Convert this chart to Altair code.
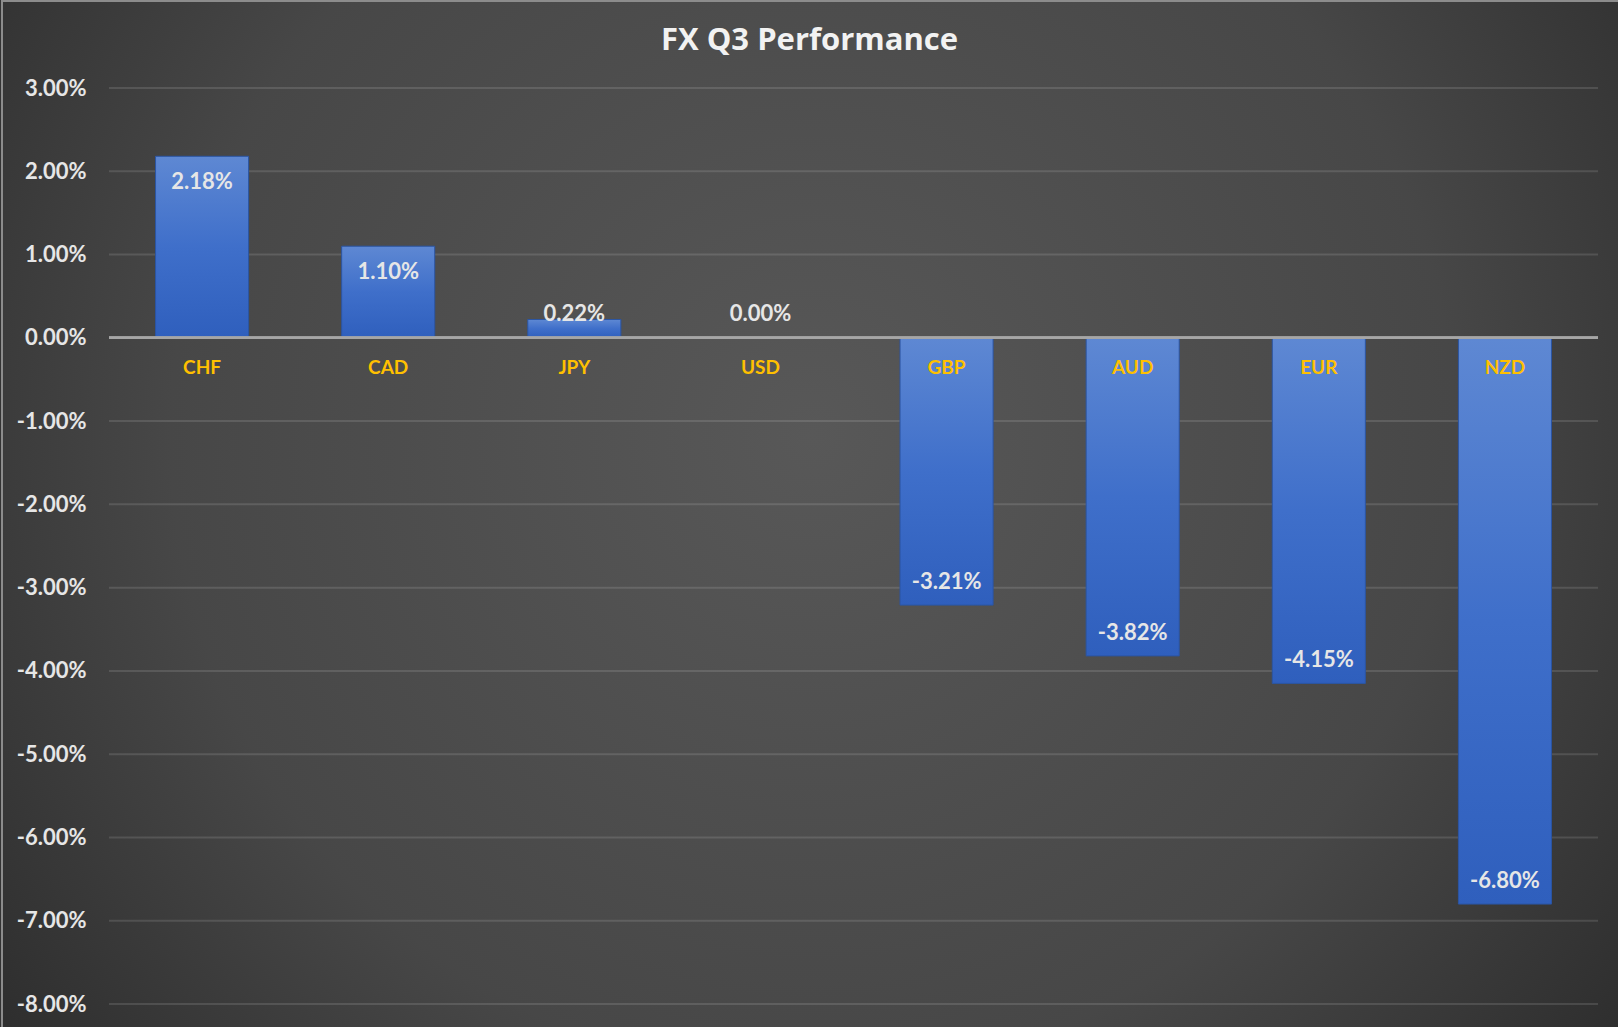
import altair as alt
import pandas as pd

currencies = ["CHF", "CAD", "JPY", "USD", "GBP", "AUD", "EUR", "NZD"]
performance = [0.0218, 0.0110, 0.0022, 0.0000, -0.0321, -0.0382, -0.0415, -0.0680]
y_ticks = [0.03, 0.02, 0.01, 0.0, -0.01, -0.02, -0.03, -0.04, -0.05, -0.06, -0.07, -0.08]
title_text = "FX Q3 Performance"

df = pd.DataFrame({"cur": currencies, "v": performance})
grid_df = pd.DataFrame({"t": y_ticks})

W, H = 1489, 916
PAD = {"left": 109, "top": 88, "right": 20, "bottom": 23}
FONT = "Lato"
FMT = "replace(format({}, '.2%'), '\u2212', '-')"

xenc = alt.X("cur:N", sort=currencies, axis=None,
             scale=alt.Scale(paddingInner=0.5, paddingOuter=0.25))
yscale = alt.Scale(domain=[-0.08, 0.03], nice=False, zero=False)

bg_grad = alt.RadialGradient(
    gradient="radial", x1=0.5, y1=0.45, r1=0, x2=0.5, y2=0.45, r2=0.72,
    stops=[alt.GradientStop(offset=0, color="#585858"),
           alt.GradientStop(offset=0.55, color="#474747"),
           alt.GradientStop(offset=1, color="#232323")])

bg = alt.Chart(alt.Data(values=[{"a": 1}])).mark_rect(
    color=bg_grad, stroke="#8c8c8c", strokeWidth=2).encode(
    x=alt.value(-PAD["left"] + 2), x2=alt.value(W + PAD["right"] + 4),
    y=alt.value(-PAD["top"] + 1), y2=alt.value(H + PAD["bottom"] + 4))

title = alt.Chart(alt.Data(values=[{"t": title_text}])).mark_text(
    font="Open Sans", fontSize=31, fontWeight="bold", color="#f2f2f2",
    baseline="middle", align="center").encode(
    x=alt.value(W / 2 - 44), y=alt.value(-PAD["top"] + 41), text="t:N")

grid = alt.Chart(grid_df).mark_rule(color="#ffffff", opacity=0.12, strokeWidth=2).encode(
    y=alt.Y("t:Q", scale=yscale))

bar_grad = alt.LinearGradient(
    gradient="linear", x1=0, y1=0, x2=0, y2=1,
    stops=[alt.GradientStop(offset=0, color="#5e88d3"),
           alt.GradientStop(offset=0.5, color="#3f6fca"),
           alt.GradientStop(offset=1, color="#2f5fbd")])

base = alt.Chart(df)

bars = base.mark_bar(color=bar_grad, stroke="#2b55a3", strokeWidth=1).encode(
    x=xenc,
    y=alt.Y("v:Q", scale=yscale,
            axis=alt.Axis(values=y_ticks, labelExpr=FMT.format("datum.value"),
                          title=None, domain=False, ticks=False, grid=False,
                          labelFont=FONT, labelFontSize=22, labelFontWeight="bold",
                          labelColor="#e6e6e6", labelPadding=23, zindex=1)),
    y2=alt.datum(0))

zero_line = base.mark_rule(color="#a6a6a6", strokeWidth=2).encode(y=alt.datum(0))

cat_labels = base.mark_text(dy=30, color="#FFC000", font=FONT, fontWeight="bold",
                            fontSize=19, baseline="middle").encode(
    x=xenc, y=alt.datum(0), text="cur:N")

val_labels = base.transform_calculate(
    ly="datum.v >= 0.006 ? datum.v - 0.0031 : (datum.v >= 0 ? 0.0029 : datum.v + 0.0028)",
    lbl=FMT.format("datum.v"),
).mark_text(color="#e6e6e6", font=FONT, fontWeight="bold", fontSize=22,
            baseline="middle").encode(
    x=xenc, y=alt.Y("ly:Q", scale=yscale), text="lbl:N")

chart = alt.layer(bg, grid, bars, zero_line, cat_labels, val_labels, title).properties(
    width=W, height=H,
    padding=PAD,
    autosize=alt.AutoSizeParams(type="none"),
    background="#333333",
).configure_view(stroke=None)

chart.save("out.html", embed_options={"renderer": "svg", "actions": False})
